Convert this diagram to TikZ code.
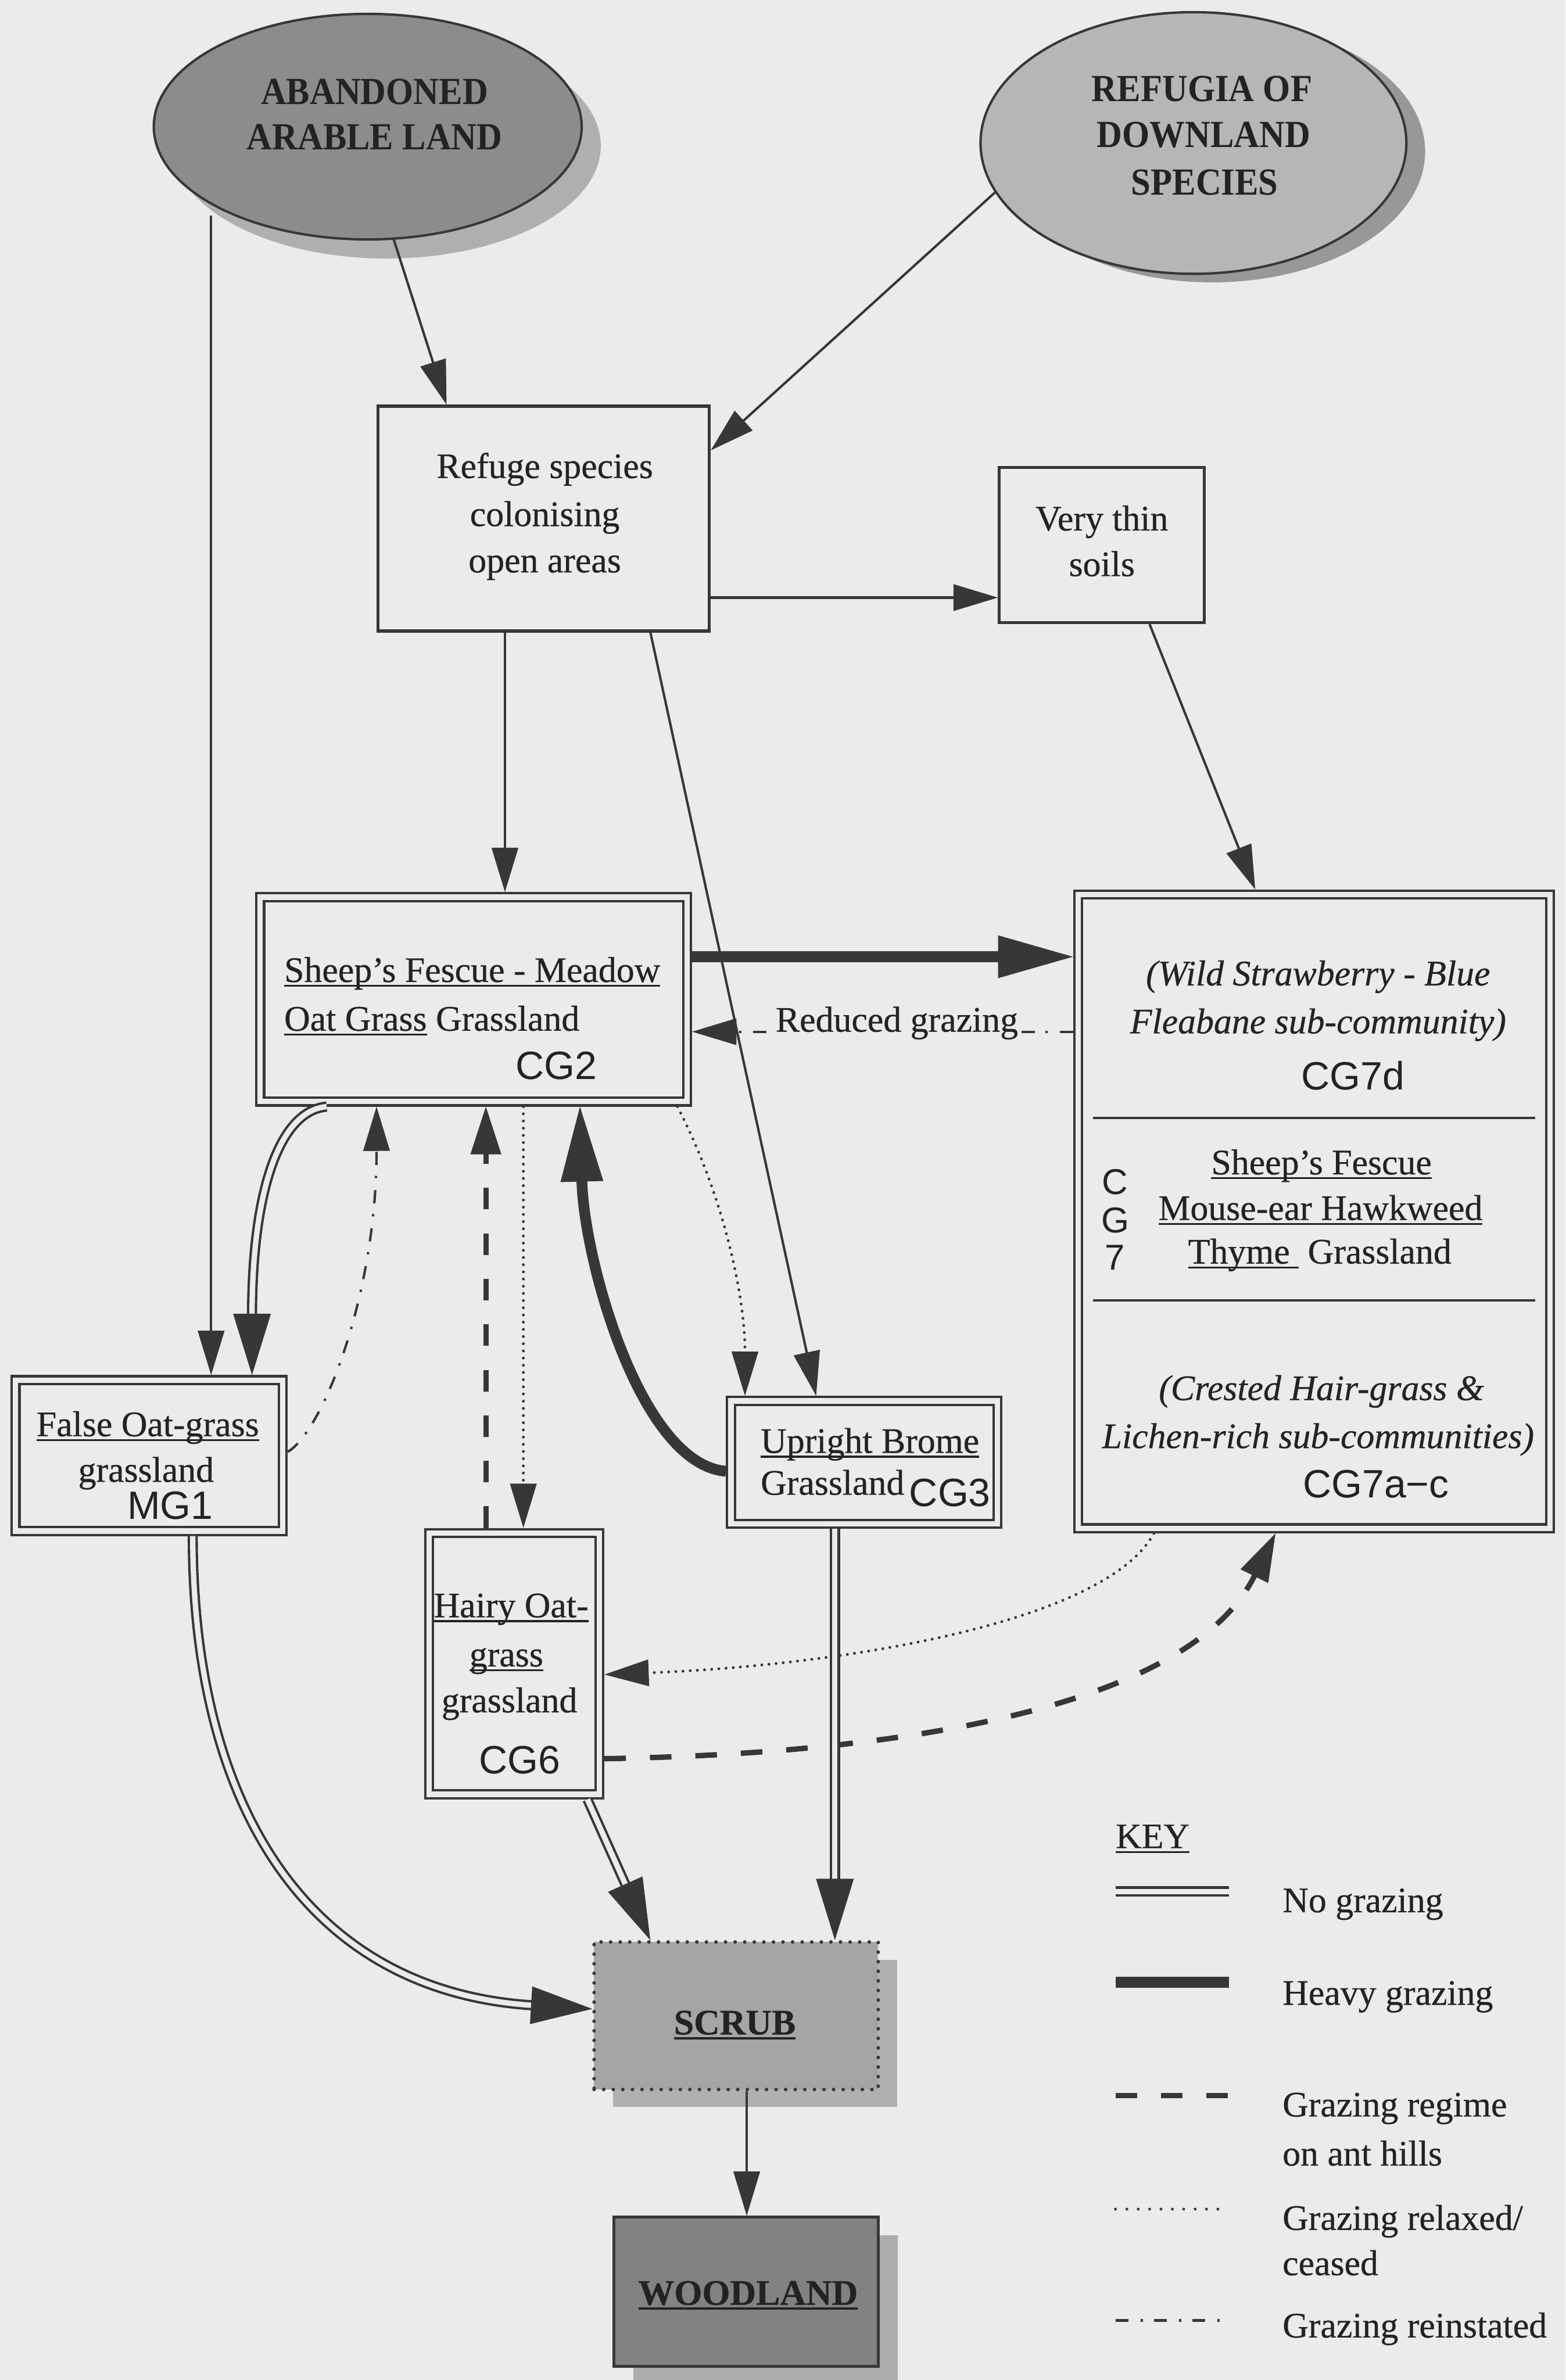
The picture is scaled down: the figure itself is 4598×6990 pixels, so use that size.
\documentclass[tikz,border=0pt]{standalone}
\usepackage{fontspec}
\setmainfont{Liberation Serif}[FakeBold=0.5]
\newfontfamily\arialf{Liberation Sans}
\newfontface\ellbf[FakeStretch=0.92]{Liberation Serif Bold}
\newsavebox\ulbox
\newcommand\myul[1]{\sbox\ulbox{#1}\rlap{\rule[-4pt]{\wd\ulbox}{1.6pt}}\usebox\ulbox}
\usetikzlibrary{arrows.meta,shapes.geometric,calc,shadows}
\definecolor{bg}{RGB}{235,235,235}
\definecolor{lc}{RGB}{55,55,55}
\definecolor{tc}{RGB}{35,35,35}
\definecolor{abfill}{RGB}{140,140,140}
\definecolor{abshad}{RGB}{175,175,175}
\definecolor{rffill}{RGB}{182,182,182}
\definecolor{rfshad}{RGB}{152,152,152}
\definecolor{scfill}{RGB}{165,165,165}
\definecolor{scshad}{RGB}{176,176,176}
\definecolor{wdfill}{RGB}{130,130,130}
\definecolor{wdshad}{RGB}{172,172,172}
\tikzset{
  txt/.style={font=\fontsize{30pt}{36pt}\selectfont, text=tc, inner sep=0pt, anchor=base},
  txtl/.style={txt, anchor=base west},
  itx/.style={txt, font=\fontsize{30pt}{36pt}\selectfont\itshape},
  cgcode/.style={txt, font=\fontsize{33pt}{36pt}\selectfont\arialf},
  cgsmall/.style={txt, font=\fontsize{30pt}{36pt}\selectfont\arialf},
  elltxt/.style={txt, font=\fontsize{32pt}{36pt}\selectfont\ellbf},
  boldtxt/.style={txt, font=\fontsize{30pt}{36pt}\selectfont\bfseries},
  sbox/.style={draw=lc, line width=2.5pt, fill=bg, inner sep=0pt},
  dbox/.style={draw=lc, line width=2pt, double=bg, double distance=4.5pt, fill=bg, inner sep=0pt, outer sep=4.25pt},
  ellsty/.style={ellipse, draw=lc, line width=2pt, inner sep=0pt},
  scrubsty/.style={fill=scfill, draw=lc, line width=3pt, dash pattern=on 0pt off 8pt, line cap=round, inner sep=0pt,
      drop shadow={shadow xshift=0.56cm, shadow yshift=-0.52cm, fill=scshad, opacity=1}},
  woodsty/.style={fill=wdfill, draw=lc, line width=2.5pt, inner sep=0pt,
      drop shadow={shadow xshift=0.58cm, shadow yshift=-0.53cm, fill=wdshad, opacity=1}},
  kthin/.style={draw=lc, line width=2pt},
  kheavy/.style={draw=lc, line width=9pt},
  knog/.style={draw=lc, line width=2pt, double=bg, double distance=4.5pt},
  kant/.style={draw=lc, line width=4.5pt, dash pattern=on 18pt off 20pt},
  kdot/.style={draw=lc, line width=2.4pt, line cap=round, dash pattern=on 0pt off 6pt},
  kdd/.style={draw=lc, line width=2pt, dash pattern=on 11pt off 10pt on 2pt off 9pt},
  kdiv/.style={draw=lc, line width=2pt},
  tthin/.style={-{Triangle[length=1.3cm, width=0.78cm, line width=1pt]}},
  tdash/.style={-{Triangle[length=1.4cm, width=0.9cm, line width=1pt]}},
  theavy/.style={-{Triangle[length=2.2cm, width=1.25cm, line width=1pt]}},
  tdblp/.style={draw=lc, line width=1pt, -{Triangle[length=1.8cm, width=1.1cm, line width=1pt]}},
}
\begin{document}
\begin{tikzpicture}[x=0.01cm, y=-0.01cm]
\useasboundingbox (0,0) rectangle (4598,6990);
\fill[bg] (0,0) rectangle (4598,6990);

% ellipses
\node[ellsty, fill=abfill, minimum width=12.56cm, minimum height=6.62cm,
      drop shadow={shadow xshift=0.56cm, shadow yshift=-0.56cm, fill=abshad, opacity=1}] (ab) at (1080,372) {};
\node[ellsty, fill=rffill, minimum width=12.5cm, minimum height=7.68cm,
      drop shadow={shadow xshift=0.55cm, shadow yshift=-0.25cm, fill=rfshad, opacity=1}] (rf) at (3505,420) {};

% boxes
\node[sbox, minimum width=9.72cm, minimum height=6.6cm] (refuge) at (1597,1523) {};
\node[sbox, minimum width=6.02cm, minimum height=4.55cm] (thin) at (3236,1601) {};
\node[dbox, minimum width=12.53cm, minimum height=6.0cm] (cg2) at (1391,2935) {};
\node[dbox, minimum width=13.85cm, minimum height=18.6cm] (cg7) at (3859,3558) {};
\node[dbox, minimum width=7.84cm, minimum height=4.43cm] (mg1) at (438,4275) {};
\node[dbox, minimum width=7.82cm, minimum height=3.61cm] (cg3) at (2538,4295) {};
\node[dbox, minimum width=5.0cm, minimum height=7.67cm] (cg6) at (1510,4886) {};
\node[scrubsty, minimum width=8.34cm, minimum height=4.33cm] (scrub) at (2162,5920) {};
\node[woodsty, minimum width=7.76cm, minimum height=4.38cm] (wood) at (2191,6731) {};

% CG7 dividers
\draw[kdiv] ($(cg7.center)+(-649,-275)$) -- ($(cg7.center)+(650,-275)$);
\draw[kdiv] ($(cg7.center)+(-649,261)$) -- ($(cg7.center)+(650,261)$);

% connectors
\coordinate (abfoot) at (620,633);
\draw[kthin, tthin] (abfoot) -- (abfoot |- mg1.north);
\draw[kthin, tthin] (ab.283) -- ([xshift=2.05cm]refuge.north west);
\draw[kthin, tthin] (rf.194) -- ([yshift=-1.34cm]refuge.north east);
\coordinate (r2t) at ([yshift=-2.32cm]refuge.east);
\draw[kthin, tthin] (r2t) -- (r2t -| thin.west);
\coordinate (r2c) at ([xshift=-1.14cm]refuge.south);
\draw[kthin, tthin] (r2c) -- (r2c |- cg2.north);
\draw[kthin, tthin] ([xshift=3.13cm]refuge.south) -- ([xshift=-1.41cm]cg3.north);
\draw[kthin, tthin] ([xshift=1.4cm]thin.south) -- ([xshift=-1.725cm]cg7.north);

\coordinate (hv) at ([yshift=1.25cm]cg2.east);
\draw[kheavy, theavy] (hv) -- (hv -| cg7.west);

\coordinate (rg) at ([yshift=-0.95cm]cg2.east);
\draw[kdd, tthin] (rg -| cg7.west) -- (rg);
\node[txt, fill=bg, inner xsep=0pt, inner ysep=4pt] (rgl) at (2634,3030) {Reduced grazing};

% CG2 -> MG1 (no grazing)
\coordinate (c2a) at ([xshift=2.1cm]cg2.south west);
\coordinate (m1a) at ([xshift=3.02cm]mg1.north);
\draw[knog, shorten >=1.7cm] (c2a) .. controls (820,3262) and (740,3500) .. (m1a);
\draw[tdblp] ($(m1a)!1.8cm!(740,3500)$) -- (m1a);

% MG1 -> CG2 (reinstated)
\coordinate (m1b) at ([yshift=0.11cm]mg1.east);
\coordinate (c2b) at ([xshift=-2.85cm]cg2.south);
\draw[kdd, tthin] (m1b) .. controls (950,4200) and (1106,3800) .. (c2b);

% CG6 -> CG2 (ant hills)
\coordinate (c6a) at ([xshift=-0.83cm]cg6.north);
\draw[kant, tdash] (c6a) -- (c6a |- cg2.south);

% CG2 -> CG6 (relaxed)
\coordinate (c6b) at ([xshift=0.27cm]cg6.north);
\draw[kdot, tthin] (c6b |- cg2.south) -- (c6b);

% CG3 -> CG2 (heavy)
\coordinate (c3a) at ([yshift=-0.26cm]cg3.west);
\coordinate (c2c) at ([xshift=3.12cm]cg2.south);
\draw[kheavy, theavy] (c3a) .. controls (1880,4300) and (1715,3700) .. (c2c);

% CG2 -> CG3 (relaxed)
\coordinate (c2d) at ([xshift=5.98cm]cg2.south);
\coordinate (c3b) at ([xshift=-3.5cm]cg3.north);
\draw[kdot, tthin] (c2d) .. controls (2120,3500) and (2188,3800) .. (c3b);

% CG7 -> CG6 (relaxed)
\coordinate (c7a) at ([xshift=-4.7cm]cg7.south);
\coordinate (c6c) at ([yshift=-0.32cm]cg6.east);
\draw[kdot, tthin] (c7a) .. controls (3250,4760) and (2500,4890) .. (c6c);

% CG6 -> CG7 (ant hills)
\coordinate (c6d) at ([yshift=-2.79cm]cg6.east);
\coordinate (c7b) at ([xshift=-1.13cm]cg7.south);
\draw[kant, tdash] (c6d) .. controls (2700,5150) and (3500,5000) .. (c7b);

% MG1 -> SCRUB
\coordinate (m1c) at ([xshift=1.28cm]mg1.south);
\coordinate (sca) at ([yshift=0.2cm]scrub.west);
\draw[knog, shorten >=1.7cm] (m1c) .. controls (566,5300) and (900,5850) .. (sca);
\draw[tdblp] ($(sca)!1.8cm!(900,5850)$) -- (sca);

% CG6 -> SCRUB
\coordinate (c6e) at ([xshift=2.15cm]cg6.south);
\coordinate (scb) at ([xshift=-2.52cm]scrub.north);
\draw[knog, shorten >=1.7cm] (c6e) -- (scb);
\draw[tdblp] ($(scb)!1.8cm!(c6e)$) -- (scb);

% CG3 -> SCRUB
\coordinate (c3c) at ([xshift=-0.86cm]cg3.south);
\coordinate (scc) at (c3c |- scrub.north);
\draw[knog, shorten >=1.7cm] (c3c) -- (scc);
\draw[tdblp] ($(scc)!1.8cm!(c3c)$) -- (scc);

% SCRUB -> WOODLAND
\coordinate (scd) at ([xshift=0.31cm]scrub.south);
\draw[kthin, tthin] (scd) -- (scd |- wood.north);

% texts
\node[elltxt] (abt1) at (1100,306) {ABANDONED};
\node[elltxt] (abt2) at (1100,439) {ARABLE LAND};
\node[elltxt] (rft1) at (3530,297) {REFUGIA OF};
\node[elltxt] (rft2) at (3535,433) {DOWNLAND};
\node[elltxt] (rft3) at (3538,572) {SPECIES};
\node[txt] (rt1) at (1600,1404) {Refuge species};
\node[txt] (rt2) at (1600,1545) {colonising};
\node[txt] (rt3) at (1600,1681) {open areas};
\node[txt] (tt1) at (3236,1558) {Very thin};
\node[txt] (tt2) at (3236,1692) {soils};
\node[txtl] (c2t1) at (834,2884) {\myul{Sheep’s Fescue - Meadow}};
\node[txtl] (c2t2) at (834,3027) {\myul{Oat Grass} Grassland};
\node[cgcode] (c2t3) at (1633,3170) {CG2};
\node[itx] (c7t1) at (3871,2894) {(Wild Strawberry - Blue};
\node[itx] (c7t2) at (3871,3035) {Fleabane sub-community)};
\node[cgcode] (c7t3) at (3974,3201) {CG7d};
\node[txt] (c7t4) at (3881,3449) {\myul{Sheep’s Fescue}};
\node[txt] (c7t5) at (3878,3583) {\myul{Mouse-ear Hawkweed}};
\node[txt] (c7t6) at (3876,3711) {\myul{Thyme\ }\ Grassland};
\node[cgsmall] (c7c) at (3275,3507) {C};
\node[cgsmall] (c7g) at (3275,3621) {G};
\node[cgsmall] (c77) at (3275,3730) {7};
\node[itx] (c7t7) at (3881,4112) {(Crested Hair-grass \&};
\node[itx] (c7t8) at (3871,4253) {Lichen-rich sub-communities)};
\node[cgcode] (c7t9) at (4041,4399) {CG7a−c};
\node[txt] (m1t1) at (434,4218) {\myul{False Oat-grass}};
\node[txt] (m1t2) at (429,4352) {grassland};
\node[cgcode] (m1t3) at (500,4461) {MG1};
\node[txt] (c3t1) at (2555,4267) {\myul{Upright Brome}};
\node[txt] (c3t2) at (2445,4390) {Grassland};
\node[cgcode] (c3t3) at (2790,4425) {CG3};
\node[txt] (c6t1) at (1501,4750) {\myul{Hairy Oat-}};
\node[txt] (c6t2) at (1487,4894) {\myul{grass}};
\node[txt] (c6t3) at (1496,5029) {grassland};
\node[cgcode] (c6t4) at (1527,5209) {CG6};
\node[boldtxt] (sct) at (2158,5975) {\myul{SCRUB}};
\node[boldtxt] (wdt) at (2197,6769) {\myul{WOODLAND}};

% key
\node[txtl] (key) at (3276,5428) {\myul{KEY}};
\draw[knog] (3276,5555) -- (3610,5555);
\node[txtl] (k1) at (3766,5616) {No grazing};
\draw[kheavy] (3276,5822) -- (3610,5822);
\node[txtl] (k2) at (3766,5888) {Heavy grazing};
\draw[kant] (3276,6155) -- (3610,6155);
\node[txtl] (k3a) at (3766,6216) {Grazing regime};
\node[txtl] (k3b) at (3766,6360) {on ant hills};
\draw[kdot, dash pattern=on 0pt off 9.5pt] (3276,6488) -- (3583,6488);
\node[txtl] (k4a) at (3766,6549) {Grazing relaxed/};
\node[txtl] (k4b) at (3766,6682) {ceased};
\draw[kdd] (3276,6815) -- (3600,6815);
\node[txtl] (k5) at (3766,6865) {Grazing reinstated};
\end{tikzpicture}
\end{document}
